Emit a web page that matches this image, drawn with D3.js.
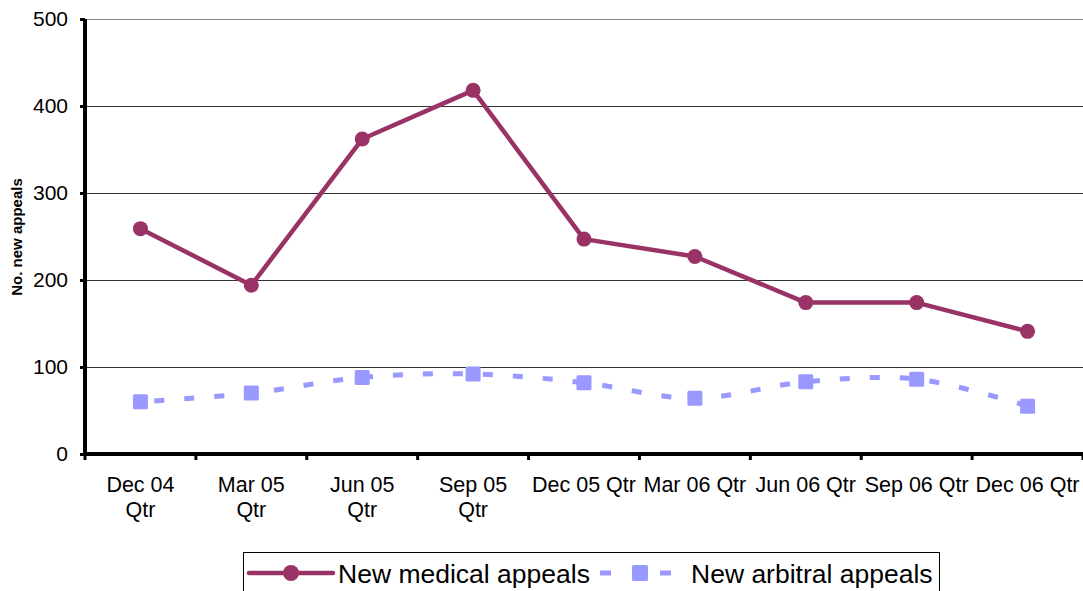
<!DOCTYPE html>
<html>
<head>
<meta charset="utf-8">
<script src="https://cdn.jsdelivr.net/npm/d3@7"></script>
<style>
  body { margin: 0; background: #fff; }
  text { font-family: "Liberation Sans", Arial, sans-serif; }
</style>
</head>
<body>
<div id="chart"></div>
<script>
// data
var quarters = ["Dec 04 Qtr", "Mar 05 Qtr", "Jun 05 Qtr", "Sep 05 Qtr", "Dec 05 Qtr",
                "Mar 06 Qtr", "Jun 06 Qtr", "Sep 06 Qtr", "Dec 06 Qtr"];
var medical = [259, 194, 362, 418, 247, 227, 174, 174, 141];
var arbitral = [60, 70, 88, 92, 82, 64, 83, 86, 55];
var yTicks = [0, 100, 200, 300, 400, 500];
// first four labels wrap onto two lines
var xLabelLines = [["Dec 04", "Qtr"], ["Mar 05", "Qtr"], ["Jun 05", "Qtr"], ["Sep 05", "Qtr"],
                   ["Dec 05 Qtr"], ["Mar 06 Qtr"], ["Jun 06 Qtr"], ["Sep 06 Qtr"], ["Dec 06 Qtr"]];

var W = 1083, H = 591;
var margin = { top: 19, right: 0, bottom: 137, left: 85 },
    width = W - margin.left - margin.right,
    height = H - margin.top - margin.bottom;

var medColor = "#993366", arbColor = "#9999ff";

var svg = d3.select("#chart")
    .append("svg")
    .attr("width", W)
    .attr("height", H);

var g = svg.append("g")
    .attr("transform", "translate(" + margin.left + "," + margin.top + ")");

var x = d3.scaleBand()
    .domain(quarters)
    .range([0, width]);

var y = d3.scaleLinear()
    .domain([0, 500])
    .range([height, 0]);

// gridlines
g.selectAll(".grid")
    .data(yTicks.filter(function (d) { return d > 0; }))
    .enter().append("line")
    .attr("x1", 0)
    .attr("x2", width)
    .attr("y1", function (d) { return y(d) + 0.5; })
    .attr("y2", function (d) { return y(d) + 0.5; })
    .attr("stroke", function (d) { return d == 500 ? "#888" : "#333"; })
    .attr("stroke-width", 1);

// Y axis
var yAxis = g.append("g")
    .call(d3.axisLeft(y).tickValues(yTicks).tickSize(5).tickPadding(12));
yAxis.select(".domain").remove();
yAxis.selectAll(".tick line").attr("stroke", "#000").attr("stroke-width", 3);
yAxis.selectAll(".tick text")
    .style("font-size", "21px")
    .attr("fill", "#000");
g.append("line")
    .attr("x1", 0).attr("x2", 0)
    .attr("y1", 0).attr("y2", height + 2)
    .attr("stroke", "#000")
    .attr("stroke-width", 4);

// X axis
var xTicks = quarters.map(function (q) { return x(q); }).concat([width]);
g.selectAll(".xtick")
    .data(xTicks)
    .enter().append("line")
    .attr("x1", function (d) { return d; })
    .attr("x2", function (d) { return d; })
    .attr("y1", height)
    .attr("y2", height + 6)
    .attr("stroke", "#000")
    .attr("stroke-width", 3);
g.append("line")
    .attr("x1", -2).attr("x2", width)
    .attr("y1", height).attr("y2", height)
    .attr("stroke", "#000")
    .attr("stroke-width", 4);

var xl = g.selectAll(".xlabel")
    .data(quarters)
    .enter().append("text")
    .attr("text-anchor", "middle")
    .attr("x", function (d) { return x(d) + x.bandwidth() / 2; })
    .attr("y", height + 38)
    .style("font-size", "21.5px")
    .attr("fill", "#000");
xl.each(function (d, i) {
    var t = d3.select(this);
    xLabelLines[i].forEach(function (s, j) {
        t.append("tspan")
            .attr("x", x(d) + x.bandwidth() / 2)
            .attr("dy", j == 0 ? 0 : 25)
            .text(s);
    });
});

// Y axis label
svg.append("text")
    .attr("transform", "translate(22,237) rotate(-90)")
    .attr("text-anchor", "middle")
    .style("font-size", "15px")
    .style("font-weight", "bold")
    .text("No. new appeals");

// lines
var cx = function (d, i) { return x(quarters[i]) + x.bandwidth() / 2; };

var arbLine = d3.line()
    .x(cx)
    .y(function (d) { return y(d); })
    .curve(d3.curveCatmullRom);

g.append("path")
    .datum(arbitral)
    .attr("fill", "none")
    .attr("stroke", arbColor)
    .attr("stroke-width", 5)
    .attr("stroke-dasharray", "10,20")
    .attr("stroke-dashoffset", -14)
    .attr("d", arbLine);

g.selectAll(".arbpt")
    .data(arbitral)
    .enter().append("rect")
    .attr("x", function (d, i) { return cx(d, i) - 7.5; })
    .attr("y", function (d) { return y(d) - 7.5; })
    .attr("width", 15)
    .attr("height", 15)
    .attr("rx", 1.5)
    .attr("fill", arbColor);

var medLine = d3.line()
    .x(cx)
    .y(function (d) { return y(d); });

g.append("path")
    .datum(medical)
    .attr("fill", "none")
    .attr("stroke", medColor)
    .attr("stroke-width", 4.5)
    .attr("stroke-linejoin", "round")
    .attr("d", medLine);

g.selectAll(".medpt")
    .data(medical)
    .enter().append("circle")
    .attr("cx", cx)
    .attr("cy", function (d) { return y(d); })
    .attr("r", 7.5)
    .attr("fill", medColor);

// legend
var leg = svg.append("g");
leg.append("rect")
    .attr("x", 243.5).attr("y", 552.5)
    .attr("width", 696).attr("height", 60)
    .attr("fill", "#fff")
    .attr("stroke", "#000")
    .attr("stroke-width", 1);

leg.append("line")
    .attr("x1", 249).attr("x2", 333)
    .attr("y1", 573).attr("y2", 573)
    .attr("stroke", medColor).attr("stroke-width", 4.5)
    .attr("stroke-linecap", "round");
leg.append("circle")
    .attr("cx", 291).attr("cy", 573).attr("r", 8)
    .attr("fill", medColor);
leg.append("text")
    .attr("x", 338).attr("y", 583)
    .style("font-size", "26.5px")
    .text("New medical appeals");

leg.append("line")
    .attr("x1", 600).attr("x2", 671)
    .attr("y1", 573).attr("y2", 573)
    .attr("stroke", arbColor).attr("stroke-width", 5)
    .attr("stroke-dasharray", "11,49");
leg.append("rect")
    .attr("x", 632).attr("y", 565)
    .attr("width", 16).attr("height", 16)
    .attr("rx", 1.5)
    .attr("fill", arbColor);
leg.append("text")
    .attr("x", 691).attr("y", 583)
    .style("font-size", "26.5px")
    .text("New arbitral appeals");
</script>
</body>
</html>
